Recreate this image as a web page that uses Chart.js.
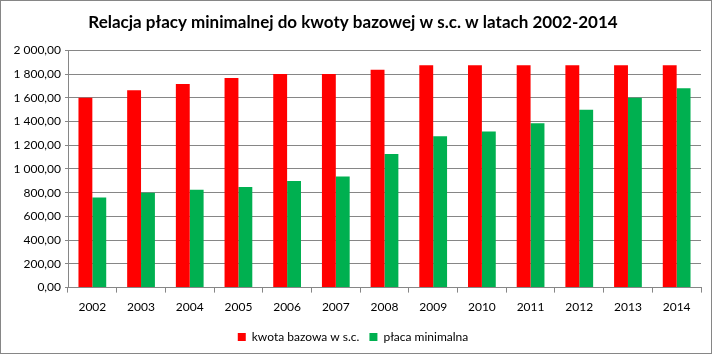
<!DOCTYPE html>
<html>
<head>
<meta charset="utf-8">
<script src="https://cdn.jsdelivr.net/npm/chart.js@4/dist/chart.umd.min.js"></script>
<style>
  html, body { margin: 0; padding: 0; background: #fff; }
  #wrap { width: 710px; height: 352px; border: 1px solid #868686; }
</style>
</head>
<body>
<div id="wrap"><canvas id="chart" width="710" height="352"></canvas></div>
<script>
// data
var years = ['2002', '2003', '2004', '2005', '2006', '2007', '2008', '2009', '2010', '2011', '2012', '2013', '2014'];
var kwotaBazowa = [1600, 1665, 1716, 1767, 1800, 1800, 1837, 1874, 1874, 1874, 1874, 1874, 1874];
var placaMinimalna = [760, 800, 824, 849, 899, 936, 1126, 1276, 1317, 1386, 1500, 1600, 1680];
var seriesNames = ['kwota bazowa w s.c.', 'płaca minimalna'];
var titleText = 'Relacja płacy minimalnej do kwoty bazowej w s.c. w latach 2002-2014';

var fontFamily = 'Lato, "Open Sans", "Liberation Sans", sans-serif';

function plNumber(v) {
    var s = Number(v).toFixed(2).split('.');
    var intPart = s[0].replace(/\B(?=(\d{3})+(?!\d))/g, ' ');
    return intPart + ',' + s[1];
}

var ctx = document.getElementById('chart').getContext('2d');
new Chart(ctx, {
    type: 'bar',
    data: {
        labels: years,
        datasets: [{
            label: seriesNames[0],
            data: kwotaBazowa,
            backgroundColor: '#ff0000',
            borderWidth: 0
        }, {
            label: seriesNames[1],
            data: placaMinimalna,
            backgroundColor: '#00b050',
            borderWidth: 0
        }]
    },
    options: {
        responsive: false,
        animation: false,
        layout: { padding: { left: 4, right: 10, top: 7, bottom: 0 } },
        datasets: {
            bar: { categoryPercentage: 0.57, barPercentage: 1.0 }
        },
        plugins: {
            title: {
                display: true,
                text: titleText,
                color: '#000',
                font: { family: fontFamily, size: 17, weight: 'bold' },
                padding: { top: 4, bottom: 18 }
            },
            legend: {
                position: 'bottom',
                labels: {
                    color: '#000',
                    boxWidth: 8,
                    boxHeight: 8,
                    padding: 10,
                    font: { family: fontFamily, size: 12 }
                }
            },
            tooltip: { enabled: false }
        },
        scales: {
            x: {
                grid: {
                    offset: true,
                    drawOnChartArea: false,
                    drawTicks: true,
                    tickLength: 5,
                    color: '#868686'
                },
                border: { display: true, color: '#868686' },
                ticks: {
                    color: '#000',
                    padding: 7,
                    font: { family: fontFamily, size: 12 },
                    maxRotation: 0
                }
            },
            y: {
                min: 0,
                max: 2000,
                ticks: {
                    stepSize: 200,
                    color: '#000',
                    padding: 4,
                    font: { family: fontFamily, size: 12 },
                    callback: function(v) { return plNumber(v); }
                },
                grid: {
                    color: '#868686',
                    drawTicks: true,
                    tickLength: 3
                },
                border: { display: true, color: '#868686' },
                afterFit: function(scale) { scale.width = 63; }
            }
        }
    }
});
</script>
</body>
</html>
